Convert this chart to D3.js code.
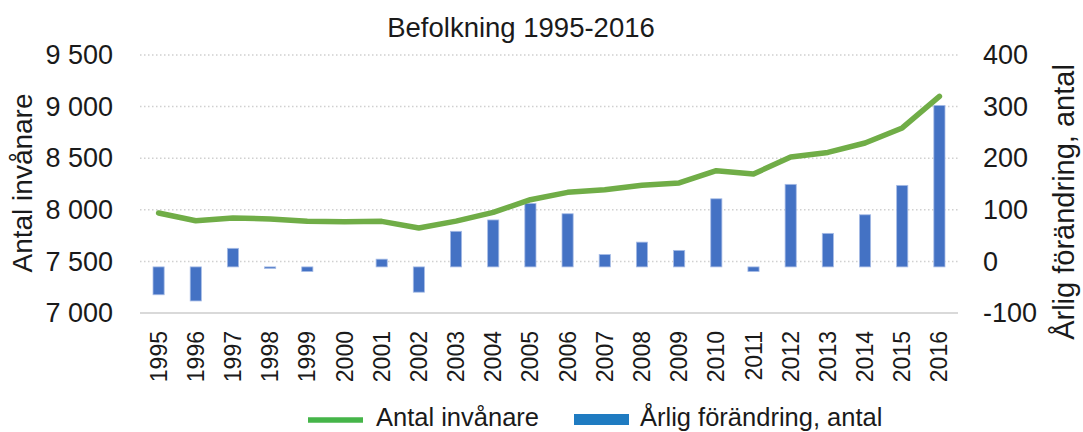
<!DOCTYPE html>
<html lang="sv">
  <head>
    <meta charset="UTF-8" />
    <title>Befolkning 1995-2016</title>
    <script src="https://d3js.org/d3.v7.min.js"></script>
    <style>
      body { margin: 0; background: #fff; }
      text { font-family: "Liberation Sans", Arial, sans-serif; fill: #1a1a1a; }
    </style>
  </head>
  <body>
    <svg width="1083" height="432"></svg>
    <script>
      var years = ['1995', '1996', '1997', '1998', '1999', '2000', '2001', '2002', '2003', '2004', '2005',
        '2006', '2007', '2008', '2009', '2010', '2011', '2012', '2013', '2014', '2015', '2016']
      var population = [7969, 7894, 7921, 7911, 7888, 7885, 7888, 7824, 7890, 7975, 8098,
        8169, 8195, 8237, 8260, 8379, 8347, 8512, 8556, 8647, 8793, 9099]
      var change = [-54, -66, 36, -3, -9, 0, 15, -49, 69, 91, 123,
        103, 24, 48, 32, 132, -9, 160, 65, 101, 158, 313]
      var leftTicks = [7000, 7500, 8000, 8500, 9000, 9500]
      var rightTicks = [-100, 0, 100, 200, 300, 400]

      var svg = d3.select('svg')
      var plot = { left: 140, right: 958, top: 55, bottom: 313 }

      var x = d3.scaleBand().domain(years).range([plot.left, plot.right])
      var yLeft = d3.scaleLinear().domain([7000, 9500]).range([plot.bottom, plot.top])
      var yRight = d3.scaleLinear().domain([-100, 400]).range([plot.bottom, plot.top])
      var fmt = function(d) { return d3.format(',')(d).replace(',', ' ') }

      // gridlines
      svg.append('g')
        .selectAll('line')
        .data(leftTicks.slice(1))
        .enter()
        .append('line')
        .attr('x1', plot.left)
        .attr('x2', plot.right)
        .attr('y1', function(d) { return yLeft(d) })
        .attr('y2', function(d) { return yLeft(d) })
        .attr('stroke', '#d0d0d0')
        .attr('stroke-width', 1.5)
        .attr('stroke-dasharray', '1.5,2.5')

      // baseline
      svg.append('line')
        .attr('x1', plot.left).attr('x2', plot.right)
        .attr('y1', plot.bottom).attr('y2', plot.bottom)
        .attr('stroke', '#d9d9d9').attr('stroke-width', 2)

      // left axis
      svg.append('g')
        .attr('transform', 'translate(113,0)')
        .call(d3.axisLeft(yLeft).tickValues(leftTicks).tickSize(0).tickPadding(0).tickFormat(fmt))
        .call(function(g) { g.select('.domain').remove() })
        .selectAll('text')
        .style('font-size', '27px')
        .attr('fill', '#1a1a1a')

      // right axis
      svg.append('g')
        .attr('transform', 'translate(983,0)')
        .call(d3.axisRight(yRight).tickValues(rightTicks).tickSize(0).tickPadding(0)
          .tickFormat(function(d) { return String(d) }))
        .call(function(g) { g.select('.domain').remove() })
        .selectAll('text')
        .style('font-size', '27px')
        .attr('fill', '#1a1a1a')

      // x labels
      svg.append('g')
        .selectAll('text')
        .data(years)
        .enter()
        .append('text')
        .attr('transform', function(d) {
          return 'translate(' + (x(d) + x.bandwidth() / 2) + ',331) rotate(-90)'
        })
        .attr('text-anchor', 'end')
        .attr('dy', '0.35em')
        .style('font-size', '23px')
        .text(function(d) { return d })

      // bars
      var barW = x.bandwidth() * 0.3
      svg.append('g')
        .attr('transform', 'translate(0,5.5)')
        .selectAll('rect')
        .data(change)
        .enter()
        .append('rect')
        .attr('x', function(d, i) { return x(years[i]) + (x.bandwidth() - barW) / 2 })
        .attr('y', function(d) { return yRight(Math.max(0, d)) })
        .attr('width', barW)
        .attr('height', function(d) { return Math.abs(yRight(d) - yRight(0)) })
        .attr('fill', '#4472c4')
        .attr('stroke', '#a7bce6')
        .attr('stroke-width', 0.8)

      // line
      var line = d3.line()
        .x(function(d, i) { return x(years[i]) + x.bandwidth() / 2 })
        .y(function(d) { return yLeft(d) })
      svg.append('path')
        .datum(population)
        .attr('d', line)
        .attr('fill', 'none')
        .attr('stroke', '#70ad47')
        .attr('stroke-width', 5.5)
        .attr('stroke-linecap', 'round')
        .attr('stroke-linejoin', 'round')

      // title
      svg.append('text')
        .attr('x', 521)
        .attr('y', 37)
        .attr('text-anchor', 'middle')
        .style('font-size', '27.5px')
        .text('Befolkning 1995-2016')

      // axis titles
      svg.append('text')
        .attr('transform', 'translate(32,183) rotate(-90)')
        .attr('text-anchor', 'middle')
        .style('font-size', '28px')
        .text('Antal invånare')
      svg.append('text')
        .attr('transform', 'translate(1074,202) rotate(-90)')
        .attr('text-anchor', 'middle')
        .style('font-size', '29px')
        .text('Årlig förändring, antal')

      // legend
      var legend = svg.append('g')
      legend.append('line')
        .attr('x1', 308).attr('x2', 363).attr('y1', 420).attr('y2', 420)
        .attr('stroke', '#45b549').attr('stroke-width', 5.5)
      legend.append('text')
        .attr('x', 376).attr('y', 426)
        .style('font-size', '25.5px')
        .text('Antal invånare')
      legend.append('rect')
        .attr('x', 574).attr('y', 414).attr('width', 55).attr('height', 11)
        .attr('fill', '#1f7bc1')
      legend.append('text')
        .attr('x', 640).attr('y', 426)
        .style('font-size', '25.5px')
        .text('Årlig förändring, antal')
    </script>
  </body>
</html>
